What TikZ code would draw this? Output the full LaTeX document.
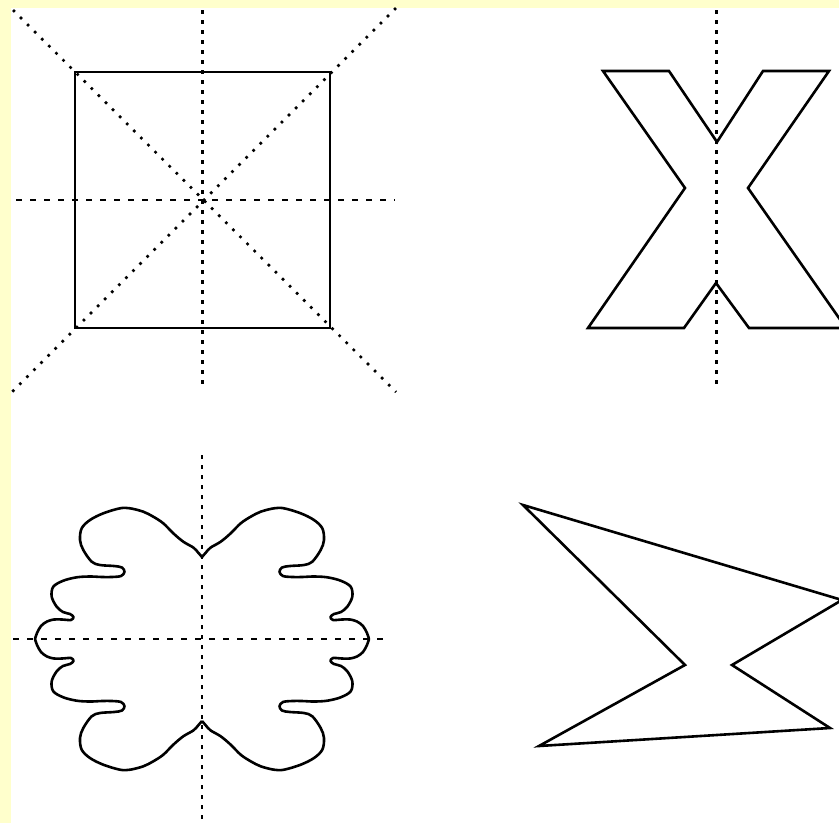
\documentclass[tikz,border=0pt]{standalone}
\usetikzlibrary{calc}
\definecolor{bgyellow}{HTML}{FFFFCC}
\tikzset{
  shapeline/.style={draw=black, line width=2.6pt, line join=miter},
  vdash/.style={draw=black, line width=2.4pt, dash pattern=on 4pt off 6pt},
  hdash/.style={draw=black, line width=2.4pt, dash pattern=on 6pt off 8pt},
  dotline/.style={draw=black, line width=2.6pt, dash pattern=on 2.6pt off 7.4pt},
}
\begin{document}
\begin{tikzpicture}[x=1pt,y=-1pt]
\useasboundingbox (0,0) rectangle (839,823);
\clip (0,0) rectangle (839,823);
\fill[bgyellow] (0,0) rectangle (839,823);
\fill[white] (11,8) rectangle (839,823);

% ---- top-left: square with axes and diagonals
\coordinate (c1) at (202.5,200);
\draw[vdash] (202.5,10) -- (202.5,388);
\draw[hdash] (16,200) -- (395,200);
\draw[dotline] (13,10) -- (396,392);
\draw[dotline] (396,8) -- (12,392);
\draw[shapeline] (75,72) rectangle (330,328);

% ---- top-right: X shape with vertical axis
\draw[vdash] (716.5,10) -- (716.5,388);
\draw[shapeline] (603,71) -- (669,71) -- (717,142) -- (763,71) -- (829,71)
  -- (748,188) -- (846,328) -- (749,328) -- (716,283) -- (684,328)
  -- (588,328) -- (685,188) -- cycle;

% ---- bottom-left: wavy blob with axes
\draw[vdash] (202,455) -- (202,821);
\draw[hdash] (13,639) -- (390,639);
\foreach \sx/\sy in {1/1,-1/1,1/-1,-1/-1}{
  \begin{scope}[shift={(202,639)}, xscale=\sx, yscale=\sy]
    \draw[shapeline, line join=round] (0,-82) -- (-4.5,-87.2)
      plot[smooth, tension=0.55] coordinates {
      (-4.5,-87.2) (-8.7,-91.5) (-18.7,-97.3) (-28.7,-105.7) (-38.7,-115.7)
      (-48.7,-122.3) (-58.7,-127.3) (-72,-130.7) (-82,-130.7) (-98.7,-125.7)
      (-112,-119) (-120.3,-110.7) (-122,-99) (-118.7,-89) (-110.3,-77.3)
      (-102,-74) (-88,-73) (-80,-71.5) (-77.5,-67) (-81,-63) (-90,-62)
      (-100,-62) (-112,-62.5) (-125.3,-61.7) (-138.7,-58.3) (-148.7,-52.3)
      (-150.3,-42.3) (-145.3,-32.3) (-139,-27) (-132,-25) (-128.5,-22)
      (-131,-19) (-140,-19.5) (-148,-19.5) (-155,-17.5) (-161,-13)
      (-165,-6) (-167,0)};
  \end{scope}
}

% ---- bottom-right: bolt polygon
\draw[shapeline] (523,505) -- (842,600) -- (732,665) -- (830,728)
  -- (539,746) -- (685,665) -- cycle;
\end{tikzpicture}
\end{document}
